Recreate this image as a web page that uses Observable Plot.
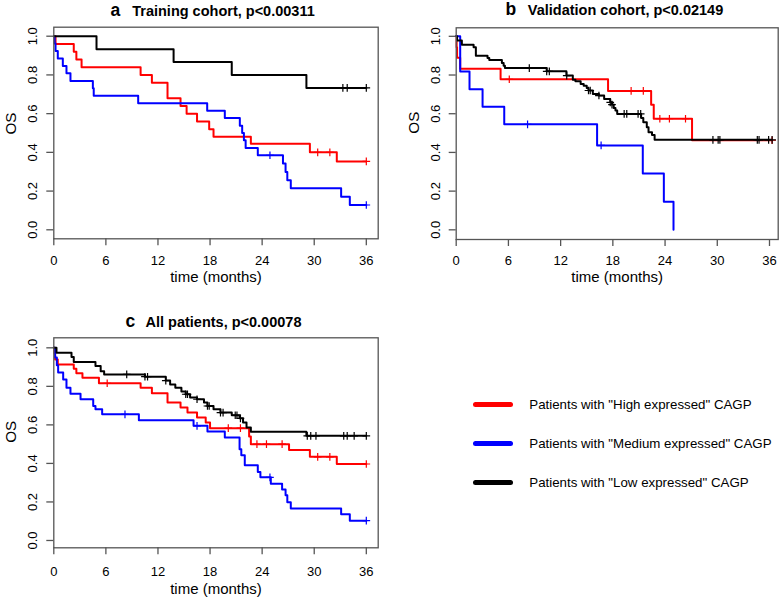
<!DOCTYPE html>
<html><head><meta charset="utf-8">
<script src="https://cdn.jsdelivr.net/npm/d3@7"></script>
<script src="https://cdn.jsdelivr.net/npm/@observablehq/plot@0.6"></script>
<style>
body{margin:0;background:#fff;font-family:"Liberation Sans",Arial,sans-serif}
#root{position:relative;width:784px;height:604px;overflow:hidden;background:#fff}
.panel{position:absolute}
#legend{position:absolute;left:472.7px;top:384.5px}
.row{height:39px;display:flex;align-items:center;white-space:nowrap}
.sw{width:40px;height:5px;border-radius:3px;margin-right:16.6px}
.lt{font-size:13.3px;color:#000}
</style></head>
<body><div id="root"></div>
<script>
const groups = ['Patients with "High expressed" CAGP', 'Patients with "Medium expressed" CAGP', 'Patients with "Low expressed" CAGP'];
const colors = ["#ff0000", "#0000ff", "#000000"];
const xTicks = [0, 6, 12, 18, 24, 30, 36];
const yTicks = [0, 0.2, 0.4, 0.6, 0.8, 1.0];
const letters = ["a", "b", "c"];
const titles = ["Training cohort, p<0.00311", "Validation cohort, p<0.02149", "All patients, p<0.00078"];
const xLabel = "time (months)";
const yLabel = "OS";

// Panel a: Training cohort
const aHighTime = [0, 0.2, 2.3, 2.6, 3.2, 10.0, 11.3, 13.1, 14.6, 15.3, 16.5, 17.9, 18.4, 22.7, 29.5, 32.6, 36.0];
const aHighSurv = [1, 0.96, 0.92, 0.88, 0.84, 0.80, 0.76, 0.68, 0.64, 0.60, 0.56, 0.52, 0.48, 0.444, 0.40, 0.353, 0.353];
const aHighCens = [30.4, 31.8, 36.0];
const aMedTime = [0, 0.1, 0.2, 0.46, 1.04, 1.46, 1.92, 4.5, 4.6, 9.72, 17.67, 19.7, 21.43, 21.7, 21.9, 22.1, 23.5, 26.4, 26.7, 26.9, 27.3, 33.1, 34.1, 36.0];
const aMedSurv = [1, 0.962, 0.923, 0.885, 0.846, 0.808, 0.769, 0.731, 0.692, 0.654, 0.615, 0.577, 0.538, 0.50, 0.462, 0.423, 0.385, 0.342, 0.299, 0.256, 0.214, 0.171, 0.128, 0.128];
const aMedCens = [24.9, 36.0];
const aLowTime = [0, 4.92, 13.8, 20.5, 29.1, 36.0];
const aLowSurv = [1, 0.933, 0.867, 0.80, 0.733, 0.733];
const aLowCens = [33.3, 33.8, 36.0];

// Panel b: Validation cohort
const bHighTime = [0, 0.05, 0.1, 0.46, 5.1, 17.45, 22.4, 22.7, 27.1, 36.3];
const bHighSurv = [1, 0.944, 0.889, 0.833, 0.778, 0.718, 0.646, 0.574, 0.463, 0.463];
const bHighCens = [6.1, 20.1, 21.5, 23.4, 24.5, 26.35, 36.3];
const bMedTime = [0, 0.46, 1.53, 3.03, 5.52, 16.19, 21.44, 23.86, 24.97];
const bMedSurv = [1, 0.818, 0.727, 0.636, 0.545, 0.436, 0.291, 0.145, 0];
const bMedCens = [8.2, 16.65];
const bLowTime = [0, 0.1, 0.65, 2.0, 2.26, 3.6, 3.8, 5.25, 5.45, 5.6, 10.4, 12.66, 13.4, 13.7, 14.3, 14.65, 15.0, 15.2, 15.7, 16.4, 17.0, 17.7, 17.9, 18.1, 18.3, 18.5, 21.25, 21.5, 21.9, 22.1, 22.5, 22.8, 36.3];
const bLowSurv = [1, 0.978, 0.957, 0.943, 0.900, 0.888, 0.878, 0.862, 0.848, 0.836, 0.819, 0.797, 0.776, 0.768, 0.754, 0.745, 0.733, 0.720, 0.702, 0.694, 0.676, 0.659, 0.647, 0.630, 0.616, 0.599, 0.578, 0.556, 0.530, 0.504, 0.490, 0.465, 0.465];
const bLowCens = [8.4, 10.4, 10.7, 12.7, 15.2, 15.4, 16.4, 17.7, 17.9, 19.3, 19.6, 20.9, 21.2, 29.5, 30.1, 30.3, 34.6, 34.8, 35.9, 36.3];

// Panel c: All patients
const cHighTime = [0, 0.08, 0.15, 0.46, 2.3, 2.6, 3.3, 5.2, 10.0, 11.3, 13.1, 14.6, 15.4, 16.5, 17.5, 18.0, 22.5, 22.7, 27.1, 29.5, 32.6, 36.0];
const cHighSurv = [1, 0.97, 0.94, 0.914, 0.892, 0.868, 0.845, 0.816, 0.793, 0.764, 0.716, 0.690, 0.664, 0.638, 0.612, 0.583, 0.54, 0.50, 0.469, 0.434, 0.397, 0.397];
const cHighCens = [6.15, 20.1, 21.5, 23.4, 24.5, 26.3, 30.4, 31.8, 36.0];
const cMedTime = [0, 0.15, 0.35, 0.5, 1.08, 1.46, 1.92, 3.08, 4.54, 4.8, 5.57, 9.8, 16.1, 17.7, 19.7, 21.4, 21.6, 22.0, 23.5, 23.8, 25.0, 26.3, 26.7, 26.9, 27.3, 33.1, 34.1, 36.0];
const cMedSurv = [1, 0.95, 0.91, 0.872, 0.836, 0.793, 0.762, 0.733, 0.698, 0.681, 0.655, 0.624, 0.595, 0.566, 0.535, 0.474, 0.443, 0.391, 0.355, 0.328, 0.295, 0.265, 0.235, 0.199, 0.166, 0.136, 0.103, 0.103];
const cMedCens = [8.2, 16.5, 24.9, 36.0];
const cLowTime = [0, 0.31, 2.04, 2.3, 4.8, 5.4, 5.8, 10.5, 12.9, 13.4, 14.0, 14.7, 15.2, 15.7, 16.5, 17.3, 17.7, 18.4, 19.2, 20.5, 21.4, 21.8, 22.2, 22.7, 29.1, 36.0];
const cLowSurv = [1, 0.974, 0.952, 0.927, 0.905, 0.879, 0.862, 0.850, 0.830, 0.810, 0.793, 0.773, 0.759, 0.742, 0.733, 0.716, 0.698, 0.681, 0.664, 0.650, 0.634, 0.612, 0.586, 0.565, 0.543, 0.543];
const cLowCens = [8.4, 10.5, 10.8, 12.9, 15.2, 15.4, 16.5, 17.7, 17.9, 19.2, 19.5, 20.9, 21.1, 21.5, 29.2, 29.6, 30.2, 33.4, 33.8, 34.6, 36.0];

const FONT = '"Liberation Sans", Arial, sans-serif';

function survAt(T, S, c) {
  let v = S[0];
  for (let i = 0; i < T.length; i++) if (T[i] <= c) v = S[i];
  return v;
}

function makePanel(cfg) {
  const steps = [], cens = [];
  cfg.series.forEach(([T, S, C], k) => {
    T.forEach((t, i) => steps.push({g: groups[k], t, s: S[i]}));
    C.forEach(c => cens.push({g: groups[k], t: c, s: survAt(T, S, c)}));
  });
  const svg = Plot.plot({
    width: cfg.width, height: cfg.height,
    marginLeft: cfg.mL, marginRight: cfg.mR, marginTop: cfg.mT, marginBottom: cfg.mB,
    style: {fontFamily: FONT, fontSize: "13px", color: "#000", background: "transparent", overflow: "visible"},
    x: {domain: [0, cfg.xMax]},
    y: {domain: cfg.yDom},
    color: {domain: groups, range: colors},
    marks: [
      Plot.line(steps, {x: "t", y: "s", z: "g", stroke: "g", curve: "step-after", strokeWidth: 2}),
      Plot.dot(cens, {x: "t", y: "s", stroke: "g", symbol: "plus", r: 2.6, strokeWidth: 1.2}),
      Plot.frame({stroke: "#555", strokeWidth: 1.3}),
      Plot.axisX(xTicks, {tickSize: 7, tickPadding: cfg.xPad, stroke: "#555", strokeWidth: 1.3, fontSize: 13, label: null, tickFormat: d => String(d)}),
      Plot.axisY(yTicks, {tickSize: 7, tickPadding: 9.6, tickRotate: -90, stroke: "#555", strokeWidth: 1.3, fontSize: 13, label: null, tickFormat: d3.format(".1f")}),
      Plot.text([xLabel], {text: d => d, frameAnchor: "bottom", dy: cfg.xLabDy, fontSize: 15}),
      Plot.text([yLabel], {text: d => d, frameAnchor: "left", dx: -42.3, dy: cfg.osDy, rotate: -90, fontSize: 15.2}),
      Plot.text([cfg.letter], {text: d => d, frameAnchor: "top-left", dx: cfg.letterDx, dy: cfg.titleDy, textAnchor: "start", lineAnchor: "bottom", fontSize: 17.5, fontWeight: "bold"}),
      Plot.text([cfg.title], {text: d => d, frameAnchor: "top-left", dx: cfg.titleDx, dy: cfg.titleDy, textAnchor: "start", lineAnchor: "bottom", fontSize: 14.5, fontWeight: "bold"})
    ]
  });
  const div = document.createElement("div");
  div.className = "panel";
  div.style.left = cfg.left + "px";
  div.style.top = cfg.top + "px";
  div.appendChild(svg);
  return div;
}

const root = document.getElementById("root");
root.appendChild(makePanel({
  left: 0, top: 0, width: 390, height: 300, mL: 53.3, mR: 12.3, mT: 26.7, mB: 61.7,
  xMax: 37.37, yDom: [-0.0465, 1.0465], xPad: 9.7, xLabDy: 43, osDy: 1.5,
  letter: letters[0], title: titles[0], letterDx: 56.7, titleDx: 78.4, titleDy: -11.7,
  series: [[aHighTime, aHighSurv, aHighCens], [aMedTime, aMedSurv, aMedCens], [aLowTime, aLowSurv, aLowCens]]
}));
root.appendChild(makePanel({
  left: 390, top: 0, width: 394, height: 300, mL: 65.7, mR: 6.3, mT: 27.3, mB: 61,
  xMax: 37.0, yDom: [-0.05, 1.044], xPad: 9.0, xLabDy: 42, osDy: 0,
  letter: letters[1], title: titles[1], letterDx: 49.3, titleDx: 71.6, titleDy: -12.3,
  series: [[bHighTime, bHighSurv, bHighCens], [bMedTime, bMedSurv, bMedCens], [bLowTime, bLowSurv, bLowCens]]
}));
root.appendChild(makePanel({
  left: 0, top: 300, width: 390, height: 304, mL: 53.3, mR: 12.3, mT: 37.3, mB: 56.7,
  xMax: 37.37, yDom: [-0.038, 1.052], xPad: 12.4, xLabDy: 46, osDy: 0,
  letter: letters[2], title: titles[2], letterDx: 71.7, titleDx: 91.7, titleDy: -10.8,
  series: [[cHighTime, cHighSurv, cHighCens], [cMedTime, cMedSurv, cMedCens], [cLowTime, cLowSurv, cLowCens]]
}));

const legend = document.createElement("div");
legend.id = "legend";
groups.forEach((g, i) => {
  const row = document.createElement("div");
  row.className = "row";
  const sw = document.createElement("div");
  sw.className = "sw";
  sw.style.background = colors[i];
  const t = document.createElement("span");
  t.className = "lt";
  t.textContent = g;
  row.appendChild(sw); row.appendChild(t);
  legend.appendChild(row);
});
root.appendChild(legend);
</script>
</body></html>
